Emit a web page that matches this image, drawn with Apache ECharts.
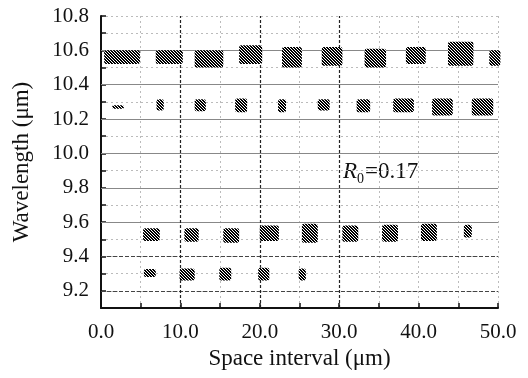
<!DOCTYPE html>
<html>
<head>
<meta charset="utf-8">
<script src="https://cdn.jsdelivr.net/npm/echarts@6/dist/echarts.min.js"></script>
<style>
  html, body { margin: 0; padding: 0; background: #fff; }
  #chart { width: 528px; height: 378px; }
</style>
</head>
<body>
<div id="chart"></div>
<script>
// each blob: [xStart, xEnd, yLow, yHigh]
var band1 = [
  [0.4, 4.9, 10.52, 10.60], [6.9, 10.3, 10.52, 10.60], [11.8, 15.4, 10.50, 10.60],
  [17.4, 20.3, 10.52, 10.63], [22.8, 25.3, 10.50, 10.62], [27.8, 30.4, 10.51, 10.62],
  [33.2, 35.9, 10.50, 10.61], [38.4, 40.9, 10.52, 10.62], [43.7, 46.9, 10.51, 10.65],
  [48.9, 50.3, 10.51, 10.60]
];
var band2 = [
  [1.4, 2.9, 10.26, 10.28], [7.0, 7.9, 10.25, 10.315], [11.8, 13.2, 10.245, 10.315],
  [16.9, 18.4, 10.24, 10.32], [22.3, 23.3, 10.24, 10.315], [27.3, 28.8, 10.25, 10.315],
  [32.2, 33.9, 10.24, 10.315], [36.8, 39.4, 10.24, 10.32], [41.7, 44.3, 10.22, 10.32],
  [46.7, 49.4, 10.22, 10.32]
];
var band3 = [
  [5.3, 7.4, 9.49, 9.565], [10.5, 12.3, 9.485, 9.565], [15.4, 17.4, 9.48, 9.565],
  [20.0, 22.4, 9.49, 9.58], [25.3, 27.3, 9.48, 9.59], [30.4, 32.4, 9.485, 9.58],
  [35.4, 37.4, 9.485, 9.585], [40.3, 42.3, 9.49, 9.59], [45.7, 46.7, 9.51, 9.585]
];
var band4 = [
  [5.4, 6.9, 9.28, 9.327], [9.9, 11.8, 9.26, 9.33], [14.9, 16.4, 9.26, 9.335],
  [19.8, 21.2, 9.26, 9.335], [24.9, 25.8, 9.26, 9.33]
];
var majorY = [9.6, 9.8, 10.0, 10.2, 10.4, 10.6];
var dashedY = [9.2, 9.4];
var dashedX = [10, 20, 30];

// dense hatch pattern "\\\\"
var pat = document.createElement('canvas');
pat.width = 3; pat.height = 3;
var pctx = pat.getContext('2d');
pctx.fillStyle = '#fff';
pctx.fillRect(0, 0, 3, 3);
pctx.fillStyle = '#000';
for (var py = 0; py < 3; py++) {
  for (var px = 0; px < 3; px++) {
    var d = ((px - py) % 3 + 3) % 3;
    if (d !== 2) pctx.fillRect(px, py, 1, 1);
  }
}

var chart = echarts.init(document.getElementById('chart'));
var font = 'Liberation Serif';

function renderBlob(params, api) {
  var p0 = api.coord([api.value(0), api.value(3)]);
  var p1 = api.coord([api.value(1), api.value(2)]);
  return {
    type: 'rect',
    shape: { x: p0[0], y: p0[1], width: p1[0] - p0[0], height: p1[1] - p0[1], r: 2 },
    style: { fill: { image: pat, repeat: 'repeat' } }
  };
}

var option = {
  animation: false,
  grid: { left: 101, right: 30, top: 16, bottom: 70 },
  xAxis: {
    type: 'value', min: 0, max: 50, interval: 5,
    name: 'Space interval (\u03bcm)', nameLocation: 'middle', nameGap: 38,
    nameTextStyle: { fontFamily: font, fontSize: 23, color: '#111' },
    axisLine: { lineStyle: { color: '#111', width: 2 } },
    axisTick: { inside: true, length: 5, lineStyle: { color: '#111', width: 1.5 } },
    axisLabel: {
      fontFamily: font, fontSize: 21, color: '#111', margin: 14,
      formatter: function (v) { return v % 10 === 0 ? v.toFixed(1) : ''; }
    },
    splitLine: { show: true, lineStyle: { color: '#bbb', type: [2, 3], width: 1 } }
  },
  yAxis: {
    type: 'value', min: 9.1, max: 10.8, interval: 0.1,
    name: 'Wavelength (\u03bcm)', nameLocation: 'middle', nameGap: 68,
    nameTextStyle: { fontFamily: font, fontSize: 23, color: '#111' },
    axisLine: { show: true, lineStyle: { color: '#111', width: 2 } },
    axisTick: { show: true, inside: true, length: 5, lineStyle: { color: '#111', width: 1.5 } },
    axisLabel: {
      fontFamily: font, fontSize: 21, color: '#111', margin: 12,
      formatter: function (v) { return Math.round(v * 10) % 2 === 0 ? v.toFixed(1) : ''; }
    },
    splitLine: { show: true, lineStyle: { color: '#bbb', type: [2, 3], width: 1 } }
  },
  graphic: [
    { type: 'text', left: 343, top: 160,
      style: { text: 'R', fontFamily: font, fontSize: 23, fontStyle: 'italic', fill: '#111' } },
    { type: 'text', left: 357, top: 172,
      style: { text: '0', fontFamily: font, fontSize: 14, fill: '#111' } },
    { type: 'text', left: 365, top: 160,
      style: { text: '=0.17', fontFamily: font, fontSize: 23, fill: '#111' } }
  ],
  series: [
    {
      type: 'line', data: [], silent: true,
      markLine: {
        silent: true, symbol: 'none', label: { show: false }, animation: false,
        data: []
          .concat(majorY.map(function (v) { return { yAxis: v, lineStyle: { color: '#888', type: 'solid', width: 1.2 } }; }))
          .concat(dashedY.map(function (v) { return { yAxis: v, lineStyle: { color: '#444', type: [4, 2], width: 1.2 } }; }))
          .concat(dashedX.map(function (v) { return { xAxis: v, lineStyle: { color: '#222', type: [3, 2], width: 1.2 } }; }))
      }
    },
    { type: 'custom', renderItem: renderBlob, data: band1, encode: { x: [0, 1], y: [2, 3] }, z: 5 },
    { type: 'custom', renderItem: renderBlob, data: band2, encode: { x: [0, 1], y: [2, 3] }, z: 5 },
    { type: 'custom', renderItem: renderBlob, data: band3, encode: { x: [0, 1], y: [2, 3] }, z: 5 },
    { type: 'custom', renderItem: renderBlob, data: band4, encode: { x: [0, 1], y: [2, 3] }, z: 5 }
  ]
};

chart.setOption(option);
</script>
</body>
</html>
